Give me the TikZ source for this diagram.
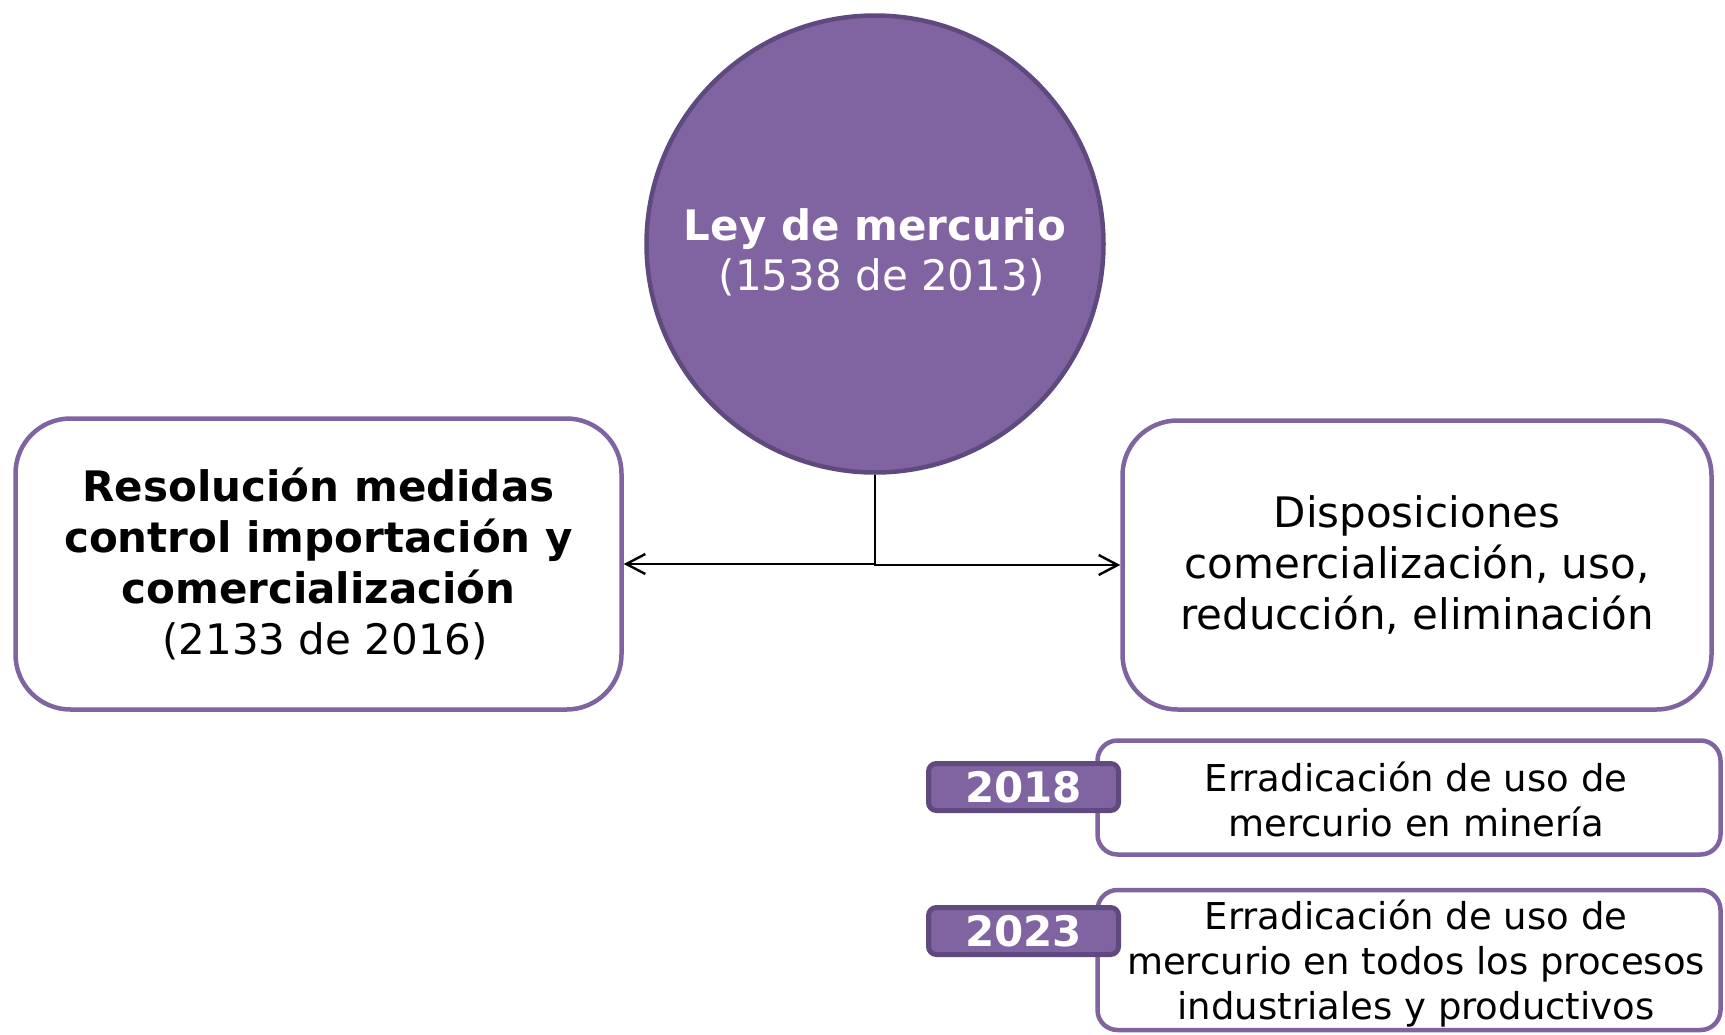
\documentclass[tikz,border=0pt]{standalone}
\usepackage{fontspec}
\setmainfont{DejaVu Sans}
\usetikzlibrary{arrows.meta}
\definecolor{morado}{HTML}{8064A2}
\definecolor{moradoosc}{HTML}{5E4A7E}
\begin{document}
\begin{tikzpicture}[x=1pt, y=-1pt,
  caja/.style={draw=morado, line width=4.5pt, rounded corners=55pt, fill=white, align=center, font=\fontsize{42}{51}\selectfont},
  cajita/.style={draw=morado, line width=4.5pt, rounded corners=20pt, fill=white, minimum width=623pt},
  texto/.style={align=center, font=\fontsize{37}{45}\selectfont},
  anio/.style={draw=moradoosc, line width=5pt, rounded corners=8pt, fill=morado, text=white, minimum width=190pt, minimum height=47pt, inner sep=0pt, font=\fontsize{42}{42}\selectfont\bfseries},
  flecha/.style={line width=2.4pt, -{Straight Barb[length=19pt,width=20pt,line width=2.4pt]}}]
\useasboundingbox (0,0) rectangle (1725,1034);
\node[circle, draw=moradoosc, line width=4.5pt, fill=morado, minimum size=457pt, inner sep=0pt] (ley) at (875,244){};
\node[text=white, align=center, font=\fontsize{42}{50}\selectfont] (leytxt) at (875,252){\textbf{Ley de mercurio}\\\hspace*{.32em}(1538 de 2013)};
\node[caja, minimum width=606pt, minimum height=291pt] (resol) at (318.5,564){\textbf{Resolución medidas}\\\textbf{control importación y}\\\textbf{comercialización}\\\hspace*{.32em}(2133 de 2016)};
\node[caja, minimum width=589pt, minimum height=289pt] (disp) at (1417,565){Disposiciones\\comercialización, uso,\\reducción, eliminación};
\draw[flecha] (ley.south) |- (resol.east);
\draw[flecha] (ley.south) |- (disp.west);
\node[cajita, minimum height=114pt] (min) at (1409,797.5){};
\node[texto] (mintxt) at (1416,799){Erradicación de uso de\\mercurio en minería};
\node[cajita, minimum height=140pt] (ind) at (1409,960){};
\node[texto] (indtxt) at (1416,963.5){Erradicación de uso de\\mercurio en todos los procesos\\industriales y productivos};
\node[anio] (a2018) at (1023.5,787){2018};
\node[anio] (a2023) at (1023.5,931){2023};
\end{tikzpicture}
\end{document}
